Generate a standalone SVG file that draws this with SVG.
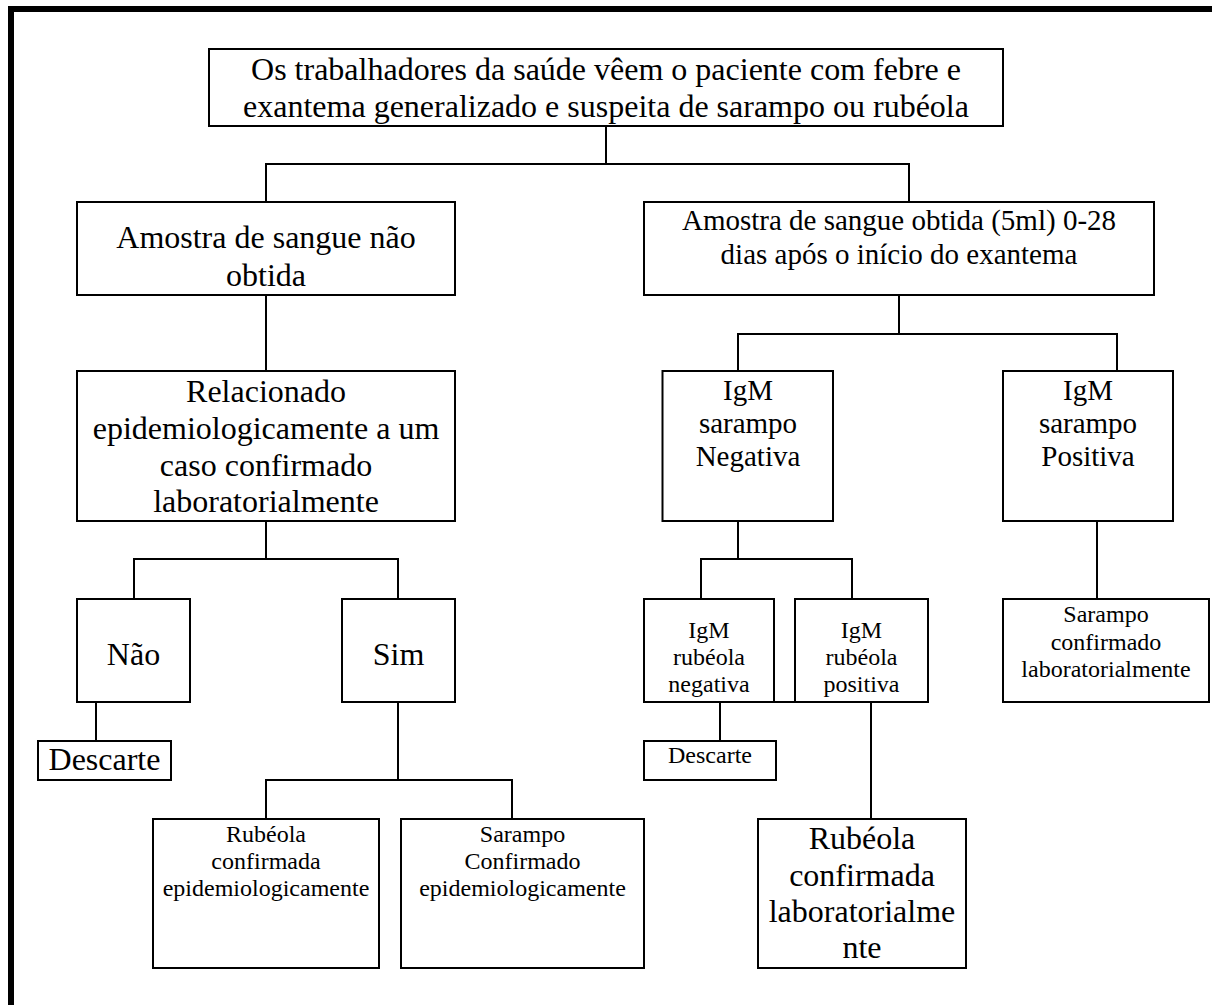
<svg xmlns="http://www.w3.org/2000/svg" width="1226" height="1005" viewBox="0 0 1226 1005">
<style>
.box{fill:#fff;stroke:#000;stroke-width:2}
.c{fill:none;stroke:#000;stroke-width:2;stroke-linecap:square}
text{font-family:"Liberation Serif","Times New Roman",serif;fill:#000;text-anchor:middle}
.L{font-size:32px}
.M{font-size:29px}
.S{font-size:24px}
</style>
<rect x="0" y="0" width="1226" height="1005" fill="#fff"/>
<g id="frame">
<rect x="8" y="6" width="1204" height="6" fill="#000"/>
<rect x="8" y="6" width="6" height="999" fill="#000"/>
</g>
<g id="connectors">
<path class="c" d="M606 126V164M266 164H909M266 164V202M909 164V202"/>
<path class="c" d="M266 295V371"/>
<path class="c" d="M899 295V334M738 334H1117M738 334V371M1117 334V371"/>
<path class="c" d="M266 521V559M134 559H398M134 559V599M398 559V599"/>
<path class="c" d="M96 702V741"/>
<path class="c" d="M398 702V780M266 780H512M266 780V819M512 780V819"/>
<path class="c" d="M738 521V559M701 559H852M701 559V599M852 559V599"/>
<path class="c" d="M720 702V741"/>
<path class="c" d="M871 702V819"/>
<path class="c" d="M1097 521V599"/>
<path class="c" d="M774 702H795"/>
</g>
<g id="n1"><rect class="box" x="209" y="49" width="794" height="77"/>
<text class="L" x="606" y="80">Os trabalhadores da saúde vêem o paciente com febre e</text>
<text class="L" x="606" y="117">exantema generalizado e suspeita de sarampo ou rubéola</text></g>
<g id="n2"><rect class="box" x="77" y="202" width="378" height="93"/>
<text class="L" x="266" y="248">Amostra de sangue não</text>
<text class="L" x="266" y="286">obtida</text></g>
<g id="n3"><rect class="box" x="644" y="202" width="510" height="93"/>
<text class="M" x="899" y="230">Amostra de sangue obtida (5ml) 0-28</text>
<text class="M" x="899" y="264">dias após o início do exantema</text></g>
<g id="n4"><rect class="box" x="77" y="371" width="378" height="150"/>
<text class="L" x="266" y="402">Relacionado</text>
<text class="L" x="266" y="439">epidemiologicamente a um</text>
<text class="L" x="266" y="476">caso confirmado</text>
<text class="L" x="266" y="512">laboratorialmente</text></g>
<g id="n5"><rect class="box" x="662.5" y="371" width="170.5" height="150"/>
<text class="M" x="748" y="400">IgM</text>
<text class="M" x="748" y="433">sarampo</text>
<text class="M" x="748" y="466">Negativa</text></g>
<g id="n6"><rect class="box" x="1003" y="371" width="170" height="150"/>
<text class="M" x="1088" y="400">IgM</text>
<text class="M" x="1088" y="433">sarampo</text>
<text class="M" x="1088" y="466">Positiva</text></g>
<g id="n7"><rect class="box" x="77" y="599" width="113" height="103"/>
<text class="L" x="133.5" y="665">Não</text></g>
<g id="n8"><rect class="box" x="342" y="599" width="113" height="103"/>
<text class="L" x="398.5" y="665">Sim</text></g>
<g id="n9"><rect class="box" x="38" y="741" width="133" height="39"/>
<text class="L" x="104.5" y="770">Descarte</text></g>
<g id="n10"><rect class="box" x="153" y="819" width="226" height="149"/>
<text class="S" x="266" y="842">Rubéola</text>
<text class="S" x="266" y="869">confirmada</text>
<text class="S" x="266" y="896">epidemiologicamente</text></g>
<g id="n11"><rect class="box" x="401" y="819" width="243" height="149"/>
<text class="S" x="522.5" y="842">Sarampo</text>
<text class="S" x="522.5" y="869">Confirmado</text>
<text class="S" x="522.5" y="896">epidemiologicamente</text></g>
<g id="n12"><rect class="box" x="644" y="599" width="130" height="103"/>
<text class="S" x="709" y="638">IgM</text>
<text class="S" x="709" y="665">rubéola</text>
<text class="S" x="709" y="692">negativa</text></g>
<g id="n13"><rect class="box" x="795" y="599" width="133" height="103"/>
<text class="S" x="861.5" y="638">IgM</text>
<text class="S" x="861.5" y="665">rubéola</text>
<text class="S" x="861.5" y="692">positiva</text></g>
<g id="n14"><rect class="box" x="644" y="741" width="132" height="39"/>
<text class="S" x="710" y="763">Descarte</text></g>
<g id="n15"><rect class="box" x="758" y="819" width="208" height="149"/>
<text class="L" x="862" y="849">Rubéola</text>
<text class="L" x="862" y="886">confirmada</text>
<text class="L" x="862" y="922">laboratorialme</text>
<text class="L" x="862" y="958">nte</text></g>
<g id="n16"><rect class="box" x="1003" y="599" width="206" height="103"/>
<text class="S" x="1106" y="622">Sarampo</text>
<text class="S" x="1106" y="650">confirmado</text>
<text class="S" x="1106" y="677">laboratorialmente</text></g>
</svg>
